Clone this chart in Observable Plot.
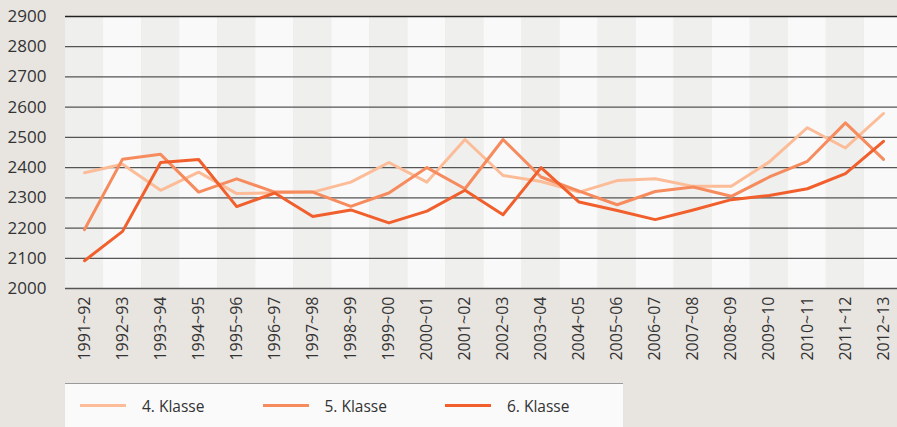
<!DOCTYPE html>
<html>
<head>
<meta charset="utf-8">
<script src="https://cdn.jsdelivr.net/npm/d3@7"></script>
<script src="https://cdn.jsdelivr.net/npm/@observablehq/plot@0.6"></script>
<style>
  html, body { margin: 0; padding: 0; background: #e8e5e1; overflow: hidden; }
  #wrap { position: relative; width: 897px; height: 427px; font-family: "Open Sans", sans-serif; }
  #legend { position: absolute; left: 65px; top: 383px; width: 558px; height: 44px; background: #fafafa; border-top: 1.5px solid #9a9a9a; box-sizing: border-box; display: flex; align-items: center; }
  .item { display: flex; align-items: center; width: 182.5px; padding-left: 15px; box-sizing: border-box; font-size: 15.5px; color: #333; }
  .sw { width: 46px; height: 3px; margin-right: 16px; }
</style>
</head>
<body>
<div id="wrap"></div>
<script>
const years = ["1991~92","1992~93","1993~94","1994~95","1995~96","1996~97","1997~98","1998~99","1999~00","2000~01","2001~02","2002~03","2003~04","2004~05","2005~06","2006~07","2007~08","2008~09","2009~10","2010~11","2011~12","2012~13"];
const klasse4 = [2383,2411,2325,2385,2314,2317,2319,2352,2417,2352,2493,2374,2354,2319,2357,2363,2338,2338,2419,2532,2465,2579];
const klasse5 = [2195,2428,2444,2319,2363,2319,2319,2272,2316,2400,2330,2493,2369,2322,2277,2321,2336,2305,2369,2421,2548,2427];
const klasse6 = [2092,2189,2417,2427,2271,2316,2238,2260,2217,2256,2325,2244,2400,2286,2258,2228,2260,2294,2308,2330,2380,2487];
const seriesNames = ["4. Klasse","5. Klasse","6. Klasse"];
const seriesColors = ["#fcbc98","#f68b5e","#f15f2c"];
const yTicks = [2000,2100,2200,2300,2400,2500,2600,2700,2800,2900];

const allSeries = [klasse4, klasse5, klasse6];
const rows = [];
allSeries.forEach((vals, s) => vals.forEach((v, i) => rows.push({i, v, s: seriesNames[s]})));
const cols = years.map((y, i) => ({i, odd: i % 2}));

const chart = Plot.plot({
  width: 897,
  height: 383,
  marginLeft: 65,
  marginRight: -5,
  marginTop: 16,
  marginBottom: 95,
  style: {background: "transparent", fontFamily: "Open Sans, sans-serif", fontSize: "16px", color: "#333"},
  x: {type: "linear", domain: [-0.5, years.length - 0.5], axis: null},
  y: {domain: [2000, 2900], axis: null},
  color: {domain: seriesNames, range: seriesColors},
  marks: [
    Plot.rect(cols, {x1: d => d.i - 0.5, x2: d => d.i + 0.5, y1: 2000, y2: 2900, fill: d => d.odd ? "#f9f9f9" : "#efefed"}),
    Plot.ruleY(yTicks, {stroke: d => d === 2900 ? "#222" : "#555", strokeWidth: 1.3}),
    Plot.line(rows, {x: "i", y: "v", z: "s", stroke: "s", strokeWidth: 3}),
    Plot.axisY({ticks: yTicks, tickSize: 0, tickPadding: 19, fontSize: 17, tickFormat: d => String(d), label: null}),
    Plot.axisX({ticks: years.map((y, i) => i), tickFormat: i => years[i], tickSize: 0, tickRotate: -90, tickPadding: 8, fontSize: 16, label: null})
  ]
});

const wrap = document.getElementById("wrap");
wrap.appendChild(chart);
const legend = document.createElement("div");
legend.id = "legend";
seriesNames.forEach((n, k) => {
  const it = document.createElement("div");
  it.className = "item";
  const sw = document.createElement("div");
  sw.className = "sw";
  sw.style.background = seriesColors[k];
  const t = document.createElement("span");
  t.textContent = n;
  it.appendChild(sw); it.appendChild(t);
  legend.appendChild(it);
});
wrap.appendChild(legend);
</script>
</body>
</html>
